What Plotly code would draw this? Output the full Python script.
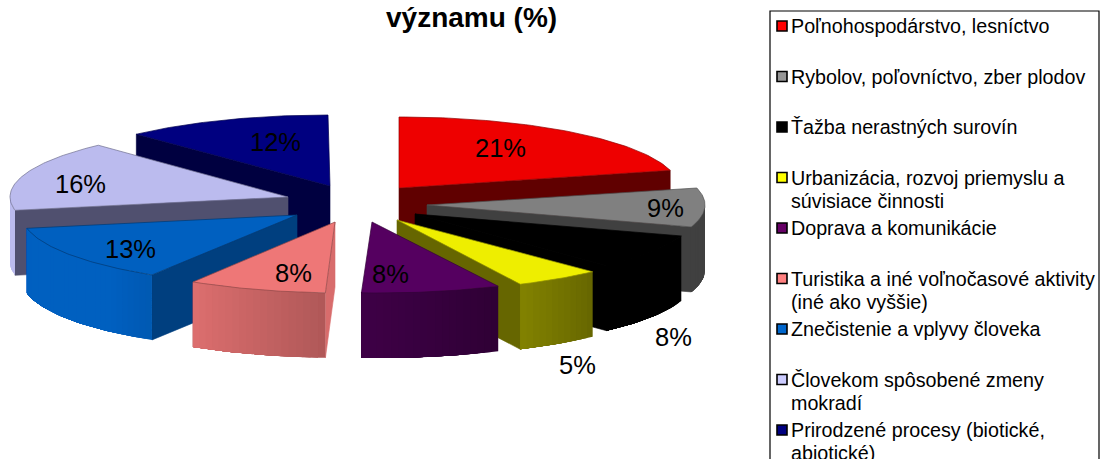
import numpy as np
import plotly.graph_objects as go

categories = ["Poľnohospodárstvo, lesníctvo", "Rybolov, poľovníctvo, zber plodov", "Ťažba nerastných surovín",
              "Urbanizácia, rozvoj priemyslu a<br>súvisiace činnosti", "Doprava a komunikácie",
              "Turistika a iné voľnočasové aktivity<br>(iné ako vyššie)", "Znečistenie a vplyvy človeka",
              "Človekom spôsobené zmeny<br>mokradí", "Prirodzené procesy (biotické,<br>abiotické)"]
values = [21, 9, 8, 5, 8, 8, 13, 16, 12]
title_text = "významu (%)"

top_colors = ["#EE0000", "#808080", "#000000", "#EEEE00", "#550060", "#EE7777", "#0060C0", "#BBBBEE", "#000080"]
cut_colors = ["#600000", "#404040", "#000000", "#666600", "#330038", "#D86C6C", "#003F7F", "#50506F", "#000040"]
marker_colors = ["#FF0000", "#969696", "#000000", "#FFFF00", "#660066", "#FF8080", "#0066CC", "#CCCCFF", "#000080"]

# geometry of the exploded 3-D pie (pixel space)
apex = [(399, 188), (427, 205), (415, 214), (397, 220), (372, 222), (335, 222), (297, 215), (288, 197), (330, 186)]
rim_shift = [0, -2, 0, 4, 7, 8, 5, 2, -2]
label_pos = [(500, 148), (665, 208), (673, 337), (577, 365), (390, 274), (293, 273), (130, 249), (80, 184), (275, 142)]
A, B, DEPTH = 280, 71, 65
order = [8, 0, 7, 1, 2, 6, 3, 5, 4]

def hexrgb(c):
    return [int(c[i:i + 2], 16) for i in (1, 3, 5)]

def shade(c, m):
    return "rgb(%d,%d,%d)" % tuple(min(255, round(v * m)) for v in hexrgb(c))

fig = go.Figure()

def poly(xs, ys, fill, line=None, w=0.6):
    fig.add_trace(go.Scatter(x=list(xs) + [xs[0]], y=list(ys) + [ys[0]], mode="lines", fill="toself",
                             fillcolor=fill, line=dict(color=line or fill, width=w),
                             showlegend=False, hoverinfo="skip"))

edges = np.concatenate([[0], np.cumsum(values)]) * 3.6
for i in order:
    t0, t1 = edges[i], edges[i + 1]
    ax, ay = apex[i]
    px = lambda t: ax + rim_shift[i] + A * np.sin(np.radians(t))
    py = lambda t: ay - B * np.cos(np.radians(t))
    # radial cut faces that look at the viewer
    if t1 < 180:
        poly([ax, px(t1), px(t1), ax], [ay, py(t1), py(t1) + DEPTH, ay + DEPTH], cut_colors[i])
    if t0 > 180:
        poly([ax, px(t0), px(t0), ax], [ay, py(t0), py(t0) + DEPTH, ay + DEPTH], cut_colors[i])
    # outer rim: overlapping bands give the light falloff without seams
    lo, hi = max(t0, 90), min(t1, 270)
    if hi > lo:
        steps = np.linspace(lo, hi, max(2, int((hi - lo) / 1.5) + 1))
        for a in steps[:-1]:
            mid = a + 0.75
            m = float(np.clip(0.43 + (mid - 137) * 0.0066, 0.43, 1.0))
            if mid < 137:
                m = 0.5
            c = shade(top_colors[i], m)
            ss = np.linspace(a, hi, max(2, int((hi - a) / 1.5) + 1))
            poly(list(px(ss)) + list(px(ss[::-1])), list(py(ss)) + list(py(ss[::-1]) + DEPTH), c, c, 0)
    # top face
    ts = np.linspace(t0, t1, 60)
    poly([ax] + list(px(ts)), [ay] + list(py(ts)), top_colors[i], shade(top_colors[i], 0.6), 0.7)

ann = []
for v, (x, y) in zip(values, label_pos):
    ann.append(dict(x=x, y=y, text=f"{v}%", showarrow=False, font=dict(size=25.5, color="#000000"),
                    xanchor="center", yanchor="middle"))
ann.append(dict(x=471, y=17, text=f"<b>{title_text}</b>", showarrow=False,
                font=dict(size=28, color="#000000"), xanchor="center", yanchor="middle"))

# legend, hand placed to follow the fixed row pitch of the reference
shapes = [dict(type="rect", x0=770, x1=1099, y0=11, y1=475, line=dict(color="#000000", width=1.2),
               fillcolor="rgba(0,0,0,0)", layer="below")]
row0, pitch, linegap = 26, 50.5, 23
for k, (name, col) in enumerate(zip(categories, marker_colors)):
    y = row0 + pitch * k
    shapes.append(dict(type="rect", x0=777, x1=787, y0=y - 5, y1=y + 5, fillcolor=col,
                       line=dict(color="#000000", width=1.6)))
    for j, part in enumerate(name.split("<br>")):
        ann.append(dict(x=789, y=y + j * linegap, text=part, showarrow=False, xanchor="left", yanchor="middle",
                        font=dict(size=19.7, color="#000000")))

fig.update_layout(width=1101, height=459, margin=dict(l=0, r=0, t=0, b=0), paper_bgcolor="#FFFFFF",
                  plot_bgcolor="#FFFFFF", font=dict(family="Liberation Sans, Arial, sans-serif"),
                  xaxis=dict(range=[0, 1101], visible=False, fixedrange=True),
                  yaxis=dict(range=[459, 0], visible=False, fixedrange=True),
                  annotations=ann, shapes=shapes, showlegend=False)

fig.write_html("out.html", config=dict(displayModeBar=False),
               post_script="document.body.style.margin='0';document.body.style.overflow='hidden';")
